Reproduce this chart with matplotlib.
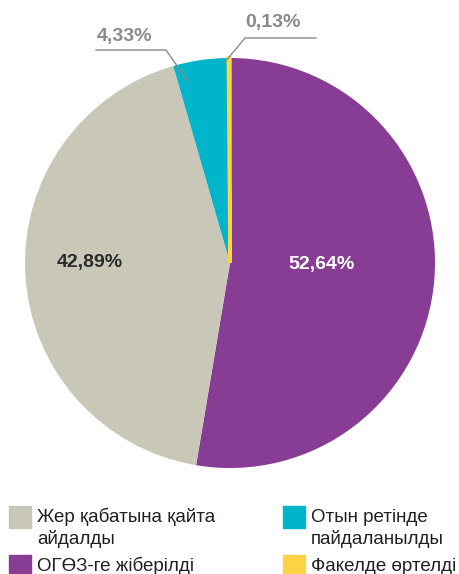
import matplotlib.pyplot as plt
from matplotlib.patches import Rectangle
import numpy as np

plt.rcParams['font.family'] = ['Liberation Sans', 'DejaVu Sans']

# данные (по часовой стрелке от верха)
labels = ['ОГӨЗ-ге жіберілді', 'Жер қабатына қайта\nайдалды',
          'Отын ретінде\nпайдаланылды', 'Факелде өртелді']
values = [52.64, 42.89, 4.33, 0.13]
pct_text = ['52,64%', '42,89%', '4,33%', '0,13%']
colors = ['#873d94', '#c9c8b8', '#00b4c9', '#fdd443']

W, H = 460, 574
fig = plt.figure(figsize=(W / 100, H / 100), dpi=100)

# пирог: центр (230, 263) px, радиус 205 px
cx, cy, r = 230, 263, 205
ax = fig.add_axes([(cx - r) / W, (H - cy - r) / H, 2 * r / W, 2 * r / H])
wedges, _ = ax.pie(values, colors=colors, startangle=90, counterclock=False,
                   wedgeprops=dict(linewidth=0))
# тонкий сектор факела делаем заметным
wedges[3].set_edgecolor(colors[3])
wedges[3].set_linewidth(2.5)
ax.set_xlim(-1, 1)
ax.set_ylim(-1, 1)
ax.set_aspect('equal')
ax.axis('off')


def d(px, py):
    return (px - cx) / r, (cy - py) / r


fs = 14
# подписи внутри
ax.text(*d(322, 265), pct_text[0], color='white', fontsize=fs,
        fontweight='bold', ha='center', va='center')
ax.text(*d(90, 262), pct_text[1], color='#2b2b2b', fontsize=fs,
        fontweight='bold', ha='center', va='center')

# выноски
grey = '#8a8a8a'
pts = [d(187, 80), d(166, 50), d(96, 50)]
ax.plot([p[0] for p in pts], [p[1] for p in pts], color=grey, lw=1, clip_on=False)
ax.text(*d(125, 36), pct_text[2], color=grey, fontsize=fs,
        fontweight='bold', ha='center', va='center', clip_on=False)

pts = [d(225, 62), d(245, 38), d(316, 38)]
ax.plot([p[0] for p in pts], [p[1] for p in pts], color=grey, lw=1, clip_on=False)
ax.text(*d(273, 23), pct_text[3], color=grey, fontsize=fs,
        fontweight='bold', ha='center', va='center', clip_on=False)

# легенда
leg = [(1, 9, 506, 522), (2, 283, 506, 522), (0, 9, 555, 571), (3, 283, 555, 571)]
for i, x0, y0, base in leg:
    fig.patches.append(Rectangle((x0 / W, 1 - (y0 + 22) / H), 22 / W, 22 / H,
                                 transform=fig.transFigure, color=colors[i]))
    for k, line in enumerate(labels[i].split('\n')):
        fig.text((x0 + 28) / W, 1 - (base + 22 * k) / H, line, fontsize=13.5,
                 color='#231f20', ha='left', va='baseline')

fig.savefig('out.png', dpi=100)
